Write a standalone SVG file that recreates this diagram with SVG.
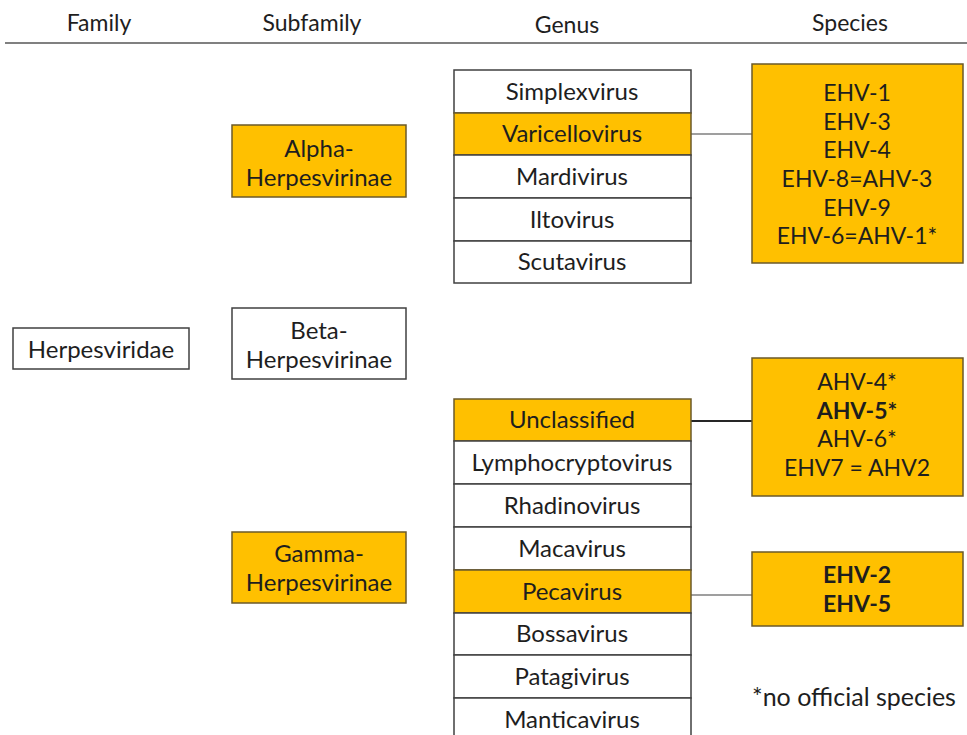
<svg xmlns="http://www.w3.org/2000/svg" width="967" height="735" viewBox="0 0 967 735">
<style>
text{font-family:Lato,"Liberation Sans",sans-serif;font-size:23px;fill:#1e1e1e;text-anchor:middle}
.g{font-size:24px}
.f{font-size:25px}
.b{font-weight:bold}
.w{fill:#ffffff;stroke:#404040;stroke-width:1.5}
.o{fill:#FFC000;stroke:#6b5a2a;stroke-width:1.5}
.c{stroke:#7f7f7f;stroke-width:1.5;fill:none}
.cd{stroke:#262626;stroke-width:2;fill:none}
</style>
<rect width="967" height="735" fill="#ffffff"/>
<g id="header">
<text x="99" y="31">Family</text>
<text x="312" y="31">Subfamily</text>
<text x="567" y="33">Genus</text>
<text x="850" y="31">Species</text>
<line x1="5" y1="43" x2="967" y2="43" stroke="#808080" stroke-width="2"/>
</g>
<g id="connectors">
<line class="c" x1="691" y1="134" x2="752" y2="134"/>
<line class="cd" x1="691" y1="421" x2="752" y2="421"/>
<line class="c" x1="691" y1="595" x2="752" y2="595"/>
</g>
<g id="herpesviridae">
<rect class="w" x="13" y="328" width="176" height="41"/>
<text class="g" x="101" y="358">Herpesviridae</text>
</g>
<g id="alpha">
<rect class="o" x="232" y="125" width="174" height="72"/>
<text class="g" x="319" y="157">Alpha-</text>
<text class="g" x="319" y="186">Herpesvirinae</text>
</g>
<g id="beta">
<rect class="w" x="232" y="308" width="174" height="71"/>
<text class="g" x="319" y="339">Beta-</text>
<text class="g" x="319" y="368">Herpesvirinae</text>
</g>
<g id="gamma">
<rect class="o" x="232" y="532" width="174" height="71"/>
<text class="g" x="319" y="562">Gamma-</text>
<text class="g" x="319" y="591">Herpesvirinae</text>
</g>
<g id="genus-alpha">
<rect class="w" x="454" y="70" width="237" height="43"/>
<text class="g" x="572" y="100">Simplexvirus</text>
<rect class="o" x="454" y="113" width="237" height="42"/>
<text class="g" x="572" y="142">Varicellovirus</text>
<rect class="w" x="454" y="155" width="237" height="43"/>
<text class="g" x="572" y="185">Mardivirus</text>
<rect class="w" x="454" y="198" width="237" height="43"/>
<text class="g" x="572" y="228">Iltovirus</text>
<rect class="w" x="454" y="241" width="237" height="42"/>
<text class="g" x="572" y="270">Scutavirus</text>
</g>
<g id="genus-gamma">
<rect class="o" x="454" y="399" width="237" height="42"/>
<text class="g" x="572" y="428">Unclassified</text>
<rect class="w" x="454" y="441" width="237" height="43"/>
<text class="g" x="572" y="471">Lymphocryptovirus</text>
<rect class="w" x="454" y="484" width="237" height="43"/>
<text class="g" x="572" y="514">Rhadinovirus</text>
<rect class="w" x="454" y="527" width="237" height="43"/>
<text class="g" x="572" y="557">Macavirus</text>
<rect class="o" x="454" y="570" width="237" height="43"/>
<text class="g" x="572" y="600">Pecavirus</text>
<rect class="w" x="454" y="613" width="237" height="42"/>
<text class="g" x="572" y="642">Bossavirus</text>
<rect class="w" x="454" y="655" width="237" height="43"/>
<text class="g" x="572" y="685">Patagivirus</text>
<rect class="w" x="454" y="698" width="237" height="43"/>
<text class="g" x="572" y="728">Manticavirus</text>
</g>
<g id="species-varicello">
<rect class="o" x="752" y="64" width="211" height="199"/>
<text x="857" y="101">EHV-1</text>
<text x="857" y="130">EHV-3</text>
<text x="857" y="158">EHV-4</text>
<text x="857" y="187">EHV-8=AHV-3</text>
<text x="857" y="216">EHV-9</text>
<text x="857" y="244">EHV-6=AHV-1*</text>
</g>
<g id="species-unclassified">
<rect class="o" x="752" y="358" width="211" height="138"/>
<text x="857" y="390">AHV-4*</text>
<text class="b" x="857" y="419">AHV-5*</text>
<text x="857" y="447">AHV-6*</text>
<text x="857" y="476">EHV7 = AHV2</text>
</g>
<g id="species-peca">
<rect class="o" x="752" y="552" width="211" height="74"/>
<text class="b" x="857" y="583">EHV-2</text>
<text class="b" x="857" y="612">EHV-5</text>
</g>
<g id="footnote">
<text class="f" x="854" y="706">*no official species</text>
</g>
</svg>
